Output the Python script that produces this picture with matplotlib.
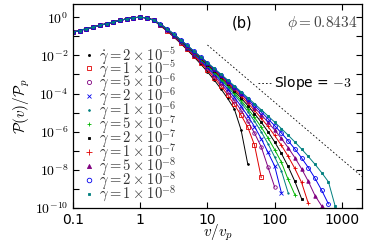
import numpy as np
import matplotlib
matplotlib.use("Agg")
import matplotlib.pyplot as plt
from matplotlib.lines import Line2D

plt.rcParams["mathtext.fontset"] = "cm"
plt.rcParams["font.size"] = 10

# log10(v/v_p) sampling used by all curves
logv = [-1.0, -0.9, -0.8, -0.7, -0.6, -0.5, -0.4, -0.3, -0.2, -0.1,
        0.0, 0.1, 0.2, 0.3, 0.4, 0.5, 0.6, 0.7, 0.8, 0.9,
        1.0, 1.1, 1.2, 1.3, 1.4, 1.5, 1.6, 1.7, 1.8, 1.9,
        2.0, 2.1, 2.2, 2.3, 2.4, 2.5, 2.6, 2.7, 2.8, 2.9]

# log10(P/P_p): common part (v/v_p <= 1.6), identical for every rate
head = [-0.786, -0.696, -0.606, -0.516, -0.427, -0.337, -0.250, -0.165, -0.087, -0.026,
        0.0, -0.036, -0.154]

# log10(P/P_p) for v/v_p >= 2, one list per shear rate
tail_2e5 = [-0.450, -0.726, -1.036, -1.367, -1.715, -2.077, -2.458, -2.859, -3.288, -3.749,
            -4.253, -4.809, -5.90, -7.70]
tail_1e5 = [-0.431, -0.702, -1.006, -1.329, -1.668, -2.018, -2.383, -2.765, -3.169, -3.600,
            -4.065, -4.573, -5.134, -5.763, -6.70, -8.40]
tail_5e6 = [-0.415, -0.682, -0.981, -1.297, -1.627, -1.967, -2.319, -2.685, -3.068, -3.473,
            -3.904, -4.371, -4.880, -5.443, -6.074, -6.792, -7.85, -8.90]
tail_2e6 = [-0.402, -0.665, -0.959, -1.270, -1.593, -1.924, -2.266, -2.617, -2.983, -3.365,
            -3.769, -4.201, -4.666, -5.173, -5.735, -6.364, -7.079, -7.80, -9.20]
tail_1e6 = [-0.390, -0.650, -0.941, -1.247, -1.564, -1.888, -2.220, -2.559, -2.910, -3.274,
            -3.655, -4.056, -4.484, -4.945, -5.447, -6.002, -6.623, -7.327, -8.05, -9.20]
tail_5e7 = [-0.383, -0.641, -0.929, -1.232, -1.545, -1.864, -2.189, -2.521, -2.862, -3.213,
            -3.578, -3.959, -4.362, -4.791, -5.254, -5.759, -6.316, -6.941, -7.60, -8.50,
            -9.30]
tail_2e7 = [-0.374, -0.631, -0.916, -1.216, -1.525, -1.838, -2.157, -2.480, -2.811, -3.149,
            -3.497, -3.858, -4.234, -4.630, -5.051, -5.503, -5.995, -6.536, -7.140, -7.822,
            -8.603, -9.51]
tail_1e7 = [-0.368, -0.622, -0.905, -1.202, -1.508, -1.817, -2.130, -2.447, -2.768, -3.095,
            -3.430, -3.773, -4.127, -4.495, -4.882, -5.290, -5.726, -6.198, -6.714, -7.286,
            -7.929, -8.661, -9.75]
tail_5e8 = [-0.362, -0.615, -0.896, -1.191, -1.494, -1.799, -2.108, -2.418, -2.732, -3.050,
            -3.373, -3.701, -4.037, -4.382, -4.738, -5.109, -5.499, -5.912, -6.354, -6.833,
            -7.358, -7.942, -8.599, -9.349, -9.90]
tail_2e8 = [-0.357, -0.609, -0.889, -1.182, -1.482, -1.784, -2.090, -2.395, -2.704, -3.014,
            -3.327, -3.644, -3.965, -4.291, -4.624, -4.966, -5.318, -5.685, -6.068, -6.473,
            -6.904, -7.371, -7.880, -8.443, -9.074, -9.79]
tail_1e8 = [-0.354, -0.604, -0.883, -1.175, -1.473, -1.773, -2.075, -2.377, -2.680, -2.985,
            -3.290, -3.598, -3.906, -4.218, -4.532, -4.850, -5.172, -5.500, -5.836, -6.181,
            -6.537, -6.908, -7.297, -7.710, -8.151, -8.629, -9.90]

tails = [tail_2e5, tail_1e5, tail_5e6, tail_2e6, tail_1e6, tail_5e7,
         tail_2e7, tail_1e7, tail_5e8, tail_2e8, tail_1e8]
rate_mant = [2, 1, 5, 2, 1, 5, 2, 1, 5, 2, 1]
rate_exp = [-5, -5, -6, -6, -6, -7, -7, -7, -8, -8, -8]

# reference power law, slope -3
slope_v = [10, 2000]
slope_amp = 35

colors = ["#000000", "#e00000", "#800080", "#0000ee", "#007f7f", "#00b400",
          "#000000", "#e00000", "#800080", "#0000ee", "#007f7f"]
markers = [".", "s", "o", "x", ".", "+", "s", "+", "^", "o", "s"]
msizes = [2.5, 2.5, 2.5, 2.5, 2.0, 3.0, 1.5, 3.5, 2.5, 2.8, 1.5]
hollow = [False, True, True, False, False, False, False, False, False, True, False]

fig = plt.figure(figsize=(3.82, 2.43), dpi=100)
ax = fig.add_axes([0.191, 0.144, 0.757, 0.840])

handles = []
for i, tail in enumerate(tails):
    ly = np.array(head + tail)
    lx = np.array(logv[:len(ly)])
    mfc = "none" if hollow[i] else colors[i]
    ax.plot(10 ** lx, 10 ** ly, color=colors[i], lw=0.7, marker=markers[i],
            ms=msizes[i], mfc=mfc, mew=0.6)
    lab = r"$\dot{\gamma} = %d \times 10^{%d}$" % (rate_mant[i], rate_exp[i])
    handles.append(Line2D([], [], ls="none", color=colors[i], marker=markers[i],
                          ms=msizes[i] + 0.5, mfc=mfc, mew=0.6, label=lab))

sv = np.array(slope_v, dtype=float)
sl, = ax.plot(sv, slope_amp * sv ** -3.0, color="black", lw=0.6, ls=(0, (2, 2.5)))

ax.set_xscale("log")
ax.set_yscale("log")
ax.set_xlim(0.1, 2000)
ax.set_ylim(1e-10, 5)

ax.set_xticks([0.1, 1, 10, 100, 1000])
ax.set_xticklabels(["0.1", "1", "10", "100", "1000"])
ax.set_yticks([10.0 ** e for e in range(0, -11, -1)])
ax.set_yticklabels([r"$10^{%d}$" % e if e % 2 == 0 else "" for e in range(0, -11, -1)])
ax.minorticks_off()
ax.tick_params(direction="in", top=True, right=True, length=4, width=0.8, labelsize=10)
for s in ax.spines.values():
    s.set_linewidth(0.9)

ax.set_xlabel(r"$v/v_p$", fontsize=11, labelpad=-3)
ax.set_ylabel(r"$\mathcal{P}(v)/\mathcal{P}_p$", fontsize=11, labelpad=2)

leg1 = ax.legend(handles=handles, loc="upper left", bbox_to_anchor=(0.04, 0.797),
                 frameon=False, handlelength=0.6, handletextpad=0.4,
                 labelspacing=-0.43, fontsize=10.5, borderpad=0, borderaxespad=0)
for t in leg1.get_texts():
    t.set_color("#333333")
ax.add_artist(leg1)

ax.legend([sl], ["Slope = $-3$"], loc="center right", bbox_to_anchor=(0.99, 0.61),
          frameon=False, handlelength=1.0, handletextpad=0.2, fontsize=10, borderpad=0)

ax.text(0.585, 0.905, "(b)", transform=ax.transAxes, fontsize=10.5, va="center", ha="center")
ax.text(0.985, 0.905, r"$\phi = 0.8434$", transform=ax.transAxes, fontsize=11,
        va="center", ha="right", color="#444444")

fig.savefig("out.png", dpi=100)
